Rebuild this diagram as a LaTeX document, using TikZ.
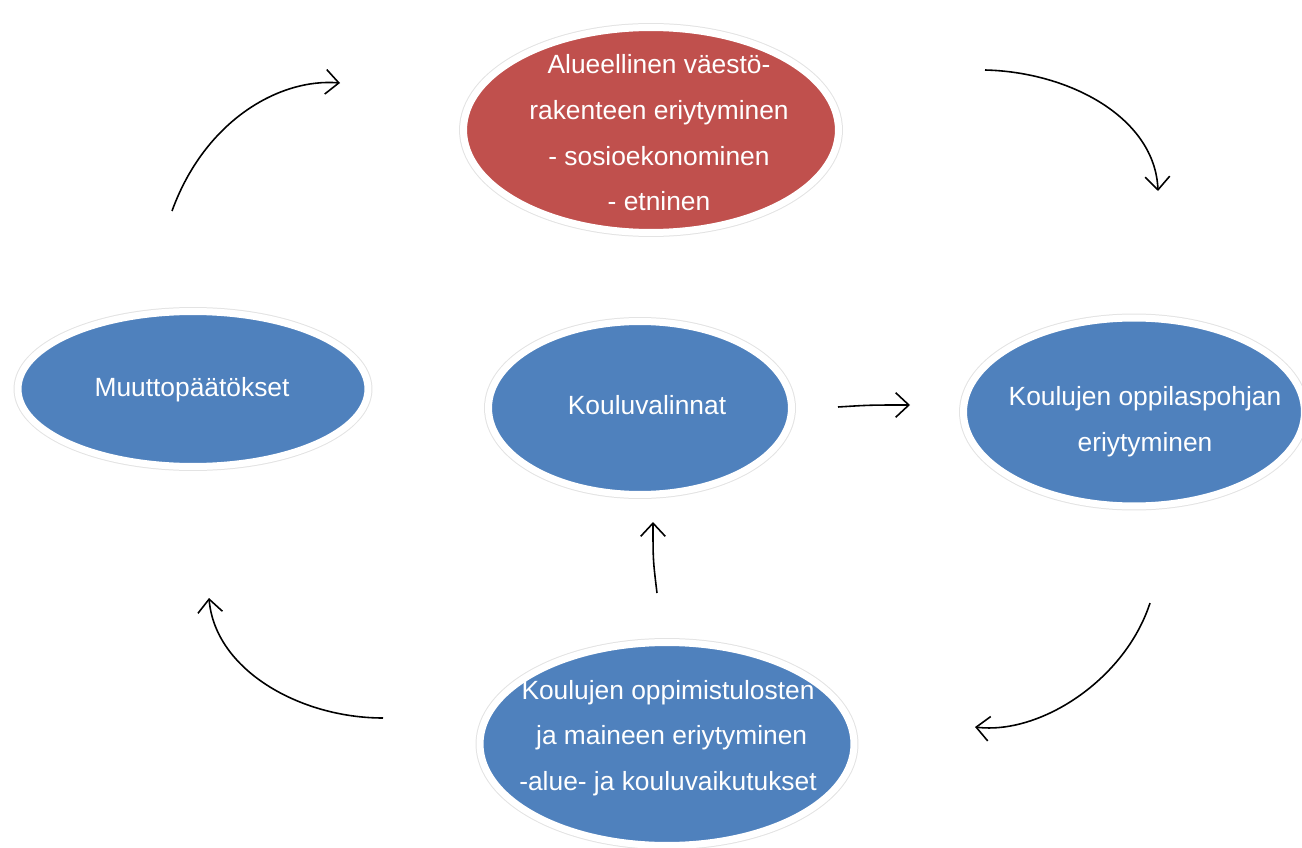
\documentclass[tikz,border=0pt]{standalone}
\usepackage{fontspec}
\setmainfont{Liberation Sans}
\usetikzlibrary{shapes.geometric,arrows.meta}

\definecolor{redfill}{HTML}{C0504D}
\definecolor{bluefill}{HTML}{4F81BD}

\tikzset{
  bubble/.style={ellipse, inner sep=0pt, fill=#1, draw=white, line width=0.14cm,
    preaction={draw=black!11, line width=0.18cm}},
  bubbletext/.style={text=white, align=center, font=\fontsize{15}{26}\selectfont},
  flow/.style={-{Straight Barb[length=7.5pt,width=14pt]}, line width=0.9pt}
}

\begin{document}
\begin{tikzpicture}[x=0.02cm, y=-0.02cm]

\useasboundingbox (0,0) rectangle (1302,848);

% ellipses
\node[bubble=redfill, minimum width=7.5cm, minimum height=4.1cm] (alue) at (651,130) {};
\node[bubble=bluefill, minimum width=7.0cm, minimum height=3.1cm] (muutto) at (193,389) {};
\node[bubble=bluefill, minimum width=6.06cm, minimum height=3.46cm] (valinta) at (640,408) {};
\node[bubble=bluefill, minimum width=6.82cm, minimum height=3.76cm] (pohja) at (1134,412) {};
\node[bubble=bluefill, minimum width=7.48cm, minimum height=4.06cm] (tulos) at (667,744) {};

% texts
\node[bubbletext] (alueT) at (659,133) {Alueellinen väestö-\\rakenteen eriytyminen\\- sosioekonominen\\- etninen};
\node[bubbletext] (muuttoT) at (192,390) {Muuttopäätökset};
\node[bubbletext] (valintaT) at (647,405) {Kouluvalinnat};
\node[bubbletext] (pohjaT) at (1145,422) {Koulujen oppilaspohjan\\eriytyminen};
\node[bubbletext] (tulosT) at (668,738) {Koulujen oppimistulosten\\\ ja maineen eriytyminen\\-alue- ja kouluvaikutukset};

% arrow ends
\coordinate (a1) at (172,211);  \coordinate (b1) at (340,83);
\coordinate (a2) at (985,70);   \coordinate (b2) at (1158,191);
\coordinate (a3) at (838,407);  \coordinate (b3) at (910,405);
\coordinate (a4) at (1150,603); \coordinate (b4) at (975,727);
\coordinate (a5) at (383,718);  \coordinate (b5) at (209,598);
\coordinate (a6) at (657,593);  \coordinate (b6) at (653,522);

% arrows
\draw[flow] (a1) .. controls (205,120) and (280,78) .. (b1);
\draw[flow] (a2) .. controls (1070,72) and (1155,118) .. (b2);
\draw[flow] (a3) .. controls (870,405) .. (b3);
\draw[flow] (a4) .. controls (1125,680) and (1040,735) .. (b4);
\draw[flow] (a5) .. controls (300,718) and (215,670) .. (b5);
\draw[flow] (a6) .. controls (653,560) .. (b6);

\end{tikzpicture}
\end{document}
